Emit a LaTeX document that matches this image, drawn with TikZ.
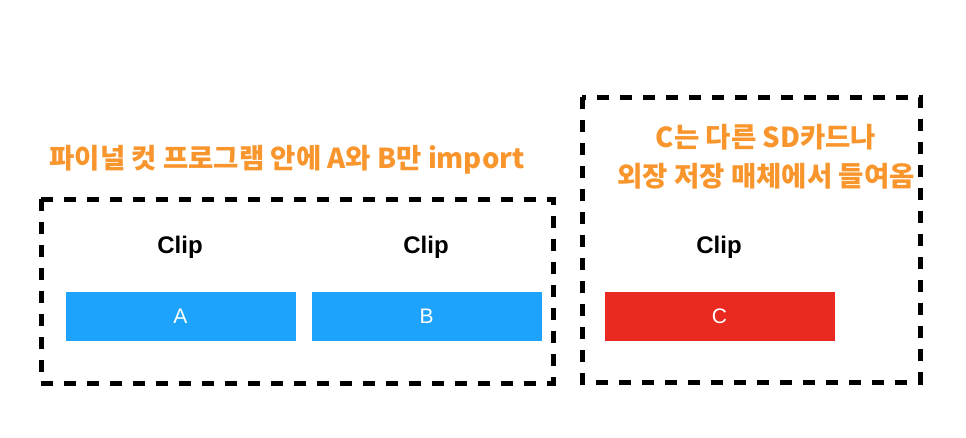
\documentclass[tikz,border=0pt]{standalone}
\usepackage{fontspec}
\setmainfont{Noto Sans CJK KR}
\newfontfamily\helv{Liberation Sans}
\usepackage{tikz}
\usetikzlibrary{positioning}
\definecolor{ClipBlue}{HTML}{1DA3FC}
\definecolor{ClipRed}{HTML}{EA2A21}
\definecolor{NoteOrange}{HTML}{F8952C}

\begin{document}
\begin{tikzpicture}[x=1pt,y=-1pt,
        bar/.style={rectangle,minimum width=230pt,minimum height=49pt,inner sep=0pt,text=white,font=\helv\fontsize{21pt}{23pt}\selectfont},
        lbl/.style={inner sep=0pt,font=\helv\bfseries\fontsize{24pt}{26pt}\selectfont},
        note/.style={inner sep=0pt,text=NoteOrange,font=\bfseries\fontsize{27.5pt}{39pt}\selectfont},
        frame/.style={draw=black,line width=5pt,dash pattern=on 12pt off 11pt}]
        \useasboundingbox (0,0) rectangle (966,437);
        \draw[frame] (41,199) rectangle (553,383); \draw[frame] (582,97) rectangle (920,382);
        \node[bar,fill=ClipBlue] (a) at (180.5,316.5) {A}; \node[bar,fill=ClipBlue] (b) at (426.5,316) {B}; \node[bar,fill=ClipRed] (c) at (719.5,316.5) {C};
        \node[lbl] (ca) at (180,247) {Clip}; \node[lbl] (cb) at (426,247) {Clip}; \node[lbl] (cc) at (719,247) {Clip};
        \node[note] (t1) at (287,160) {파이널 컷 프로그램 안에 A와 B만 import};
        \node[note,align=center] (t2) at (766,157) {C는 다른 SD카드나\\외장 저장 매체에서 들여옴};
      \end{tikzpicture}
\end{document}
